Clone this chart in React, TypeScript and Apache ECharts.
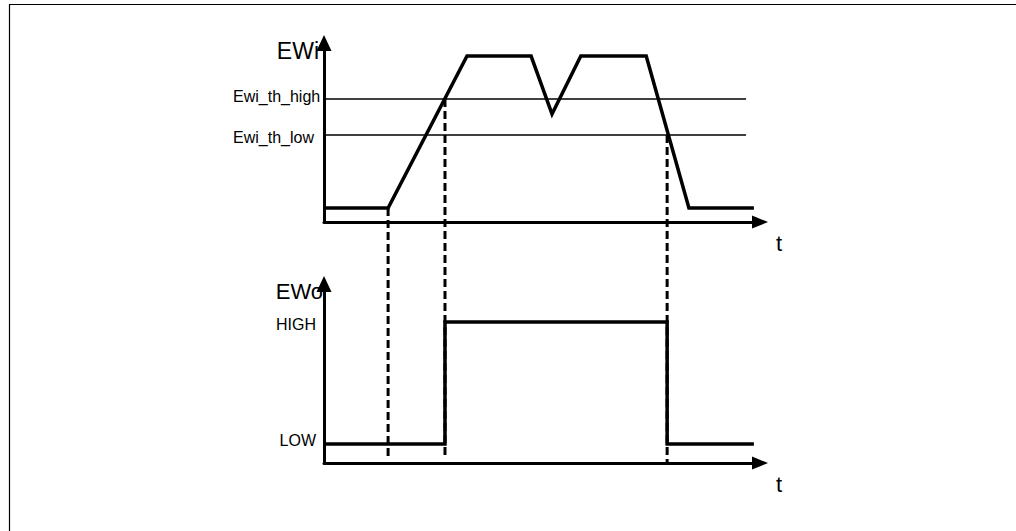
import React, { useEffect, useRef } from 'react';
import * as echarts from 'echarts';

const FONT = '"Liberation Sans", Arial, Helvetica, sans-serif';

// shared scales (arbitrary units)
const T_MIN = 0;
const T_MAX = 100;
const V_MIN = 0;
const V_MAX = 100;

// EWi input signal
const EWI_T = [0, 14.7, 32.8, 47.5, 52.3, 58.9, 73.9, 83.7, 98.6];
const EWI_V = [7.8, 7.8, 92.7, 92.7, 60.3, 92.7, 92.7, 7.8, 7.8];

// thresholds
const TH_NAMES = ['Ewi_th_high', 'Ewi_th_low'];
const TH_VALUES = [68.7, 48.6];
const TH_END_T = 96.8;
const TH_LABEL_POS = [70.0, 47.2];

// EWo output signal
const EWO_T = [0, 27.75, 27.75, 78.7, 78.7, 98.6];
const EWO_V = [10.6, 10.6, 78.8, 78.8, 10.6, 10.6];
const EWO_LEVEL_NAMES = ['LOW', 'HIGH'];
const EWO_LABEL_POS = [12.6, 77.1];

// dashed event markers (in EWi scale, extended down through EWo chart)
const MARK_T = [14.7, 27.75, 78.7];
const MARK_FROM = [7.8, 68.7, 48.6];
const MARK_TO = [-131.3, -131.3, -134.6];

const zip = (a: number[], b: number[]) => a.map((v, i) => [v, b[i]]);

export default function App() {
  const ref = useRef<HTMLDivElement>(null);
  useEffect(() => {
    if (!ref.current) return;
    const chart = echarts.init(ref.current, undefined, { renderer: 'svg' });
    const axisLineX = {
      show: true,
      onZero: false,
      symbol: ['none', 'triangle'],
      symbolSize: [13, 16],
      lineStyle: { color: '#000', width: 3 },
    };
    const axisLineY = {
      show: true,
      onZero: false,
      symbol: ['none', 'triangle'],
      symbolSize: [15, 16],
      lineStyle: { color: '#000', width: 3 },
    };
    const xBase = (gridIndex: number) => ({
      type: 'value',
      gridIndex,
      min: T_MIN,
      max: T_MAX,
      axisLine: axisLineX,
      axisTick: { show: false },
      axisLabel: { show: false },
      splitLine: { show: false },
      name: 't',
      nameLocation: 'end',
      nameGap: 16,
      nameTextStyle: {
        fontSize: 22,
        fontFamily: FONT,
        color: '#000',
        align: 'left',
        verticalAlign: 'top',
        padding: [10, 0, 0, 0],
      },
    });
    const option: any = {
      animation: false,
      backgroundColor: '#fff',
      grid: [
        { left: 324, top: 43, width: 436, height: 179, containLabel: false },
        { left: 324, top: 284, width: 436, height: 179, containLabel: false },
      ],
      xAxis: [xBase(0), xBase(1)],
      yAxis: [
        {
          type: 'value',
          gridIndex: 0,
          min: V_MIN,
          max: V_MAX,
          axisLine: axisLineY,
          axisTick: { show: false },
          splitLine: { show: false },
          axisLabel: {
            show: true,
            customValues: TH_LABEL_POS,
            formatter: (v: number) => TH_NAMES[TH_LABEL_POS.indexOf(v)] ?? '',
            align: 'left',
            margin: 91,
            fontSize: 16,
            fontFamily: FONT,
            color: '#000',
          },
          name: 'EWi',
          nameLocation: 'end',
          nameGap: -8,
          nameTextStyle: {
            fontSize: 23,
            fontFamily: FONT,
            color: '#000',
            align: 'right',
            verticalAlign: 'middle',
            padding: [0, 5, 0, 0],
          },
        },
        {
          type: 'value',
          gridIndex: 1,
          min: V_MIN,
          max: V_MAX,
          axisLine: axisLineY,
          axisTick: { show: false },
          splitLine: { show: false },
          axisLabel: {
            show: true,
            customValues: EWO_LABEL_POS,
            formatter: (v: number) => EWO_LEVEL_NAMES[EWO_LABEL_POS.indexOf(v)] ?? '',
            margin: 8,
            fontSize: 16,
            fontFamily: FONT,
            color: '#000',
          },
          name: 'EWo',
          nameLocation: 'end',
          nameGap: -7,
          nameTextStyle: {
            fontSize: 22,
            fontFamily: FONT,
            color: '#000',
            align: 'right',
            verticalAlign: 'middle',
            padding: [0, 1, 0, 0],
          },
        },
      ],
      series: [
        {
          type: 'line',
          name: 'EWi',
          xAxisIndex: 0,
          yAxisIndex: 0,
          data: zip(EWI_T, EWI_V),
          symbol: 'none',
          clip: false,
          lineStyle: { color: '#000', width: 3.5, join: 'miter' },
          z: 5,
          markLine: {
            silent: true,
            symbol: ['none', 'none'],
            label: { show: false },
            lineStyle: { color: '#000', width: 1.5, type: 'solid' },
            data: TH_VALUES.map((v) => [
              { coord: [T_MIN, v] },
              { coord: [TH_END_T, v] },
            ]),
          },
        },
        ...MARK_T.map((t, i) => ({
          type: 'line',
          name: 'marker' + i,
          xAxisIndex: 0,
          yAxisIndex: 0,
          data: [
            [t, MARK_FROM[i]],
            [t, MARK_TO[i]],
          ],
          symbol: 'none',
          clip: false,
          z: 4,
          lineStyle: { color: '#000', width: 3, type: [8, 4] },
        })),
        {
          type: 'line',
          name: 'EWo',
          xAxisIndex: 1,
          yAxisIndex: 1,
          data: zip(EWO_T, EWO_V),
          symbol: 'none',
          clip: false,
          lineStyle: { color: '#000', width: 3.5, join: 'miter' },
          z: 5,
        },
      ],
      graphic: [
        {
          type: 'polyline',
          silent: true,
          shape: { points: [[9.5, 531], [9.5, 4.5], [1016, 4.5]] },
          style: { stroke: '#000', lineWidth: 1.2, fill: null },
        },
      ],
    };
    chart.setOption(option);
    return () => chart.dispose();
  }, []);
  return (
    <div
      ref={ref}
      style={{ position: 'fixed', left: 0, top: 0, width: 1016, height: 531, background: '#fff' }}
    />
  );
}
